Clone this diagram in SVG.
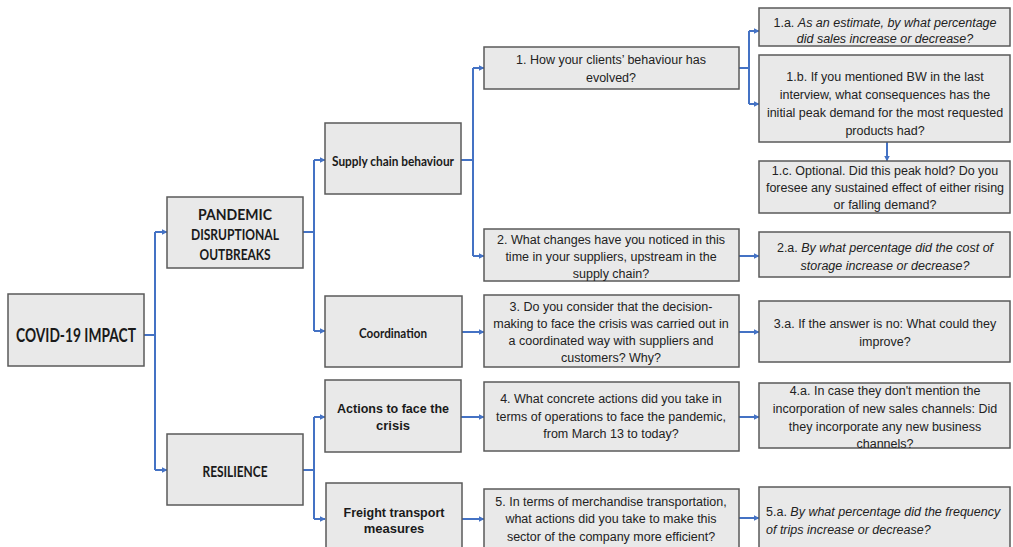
<svg xmlns="http://www.w3.org/2000/svg" width="1013" height="547" viewBox="0 0 1013 547">
<defs>
<marker id="arr" viewBox="0 0 6 6" refX="5.5" refY="3" markerWidth="6" markerHeight="6" markerUnits="userSpaceOnUse" orient="auto">
<path d="M0,0 L6,3 L0,6 z" fill="#4472c4"/>
</marker>
<style>
.box{fill:#e9e9e9;stroke:#5a5a5a;stroke-width:1.5}
.lbl{font-family:Lato,"Liberation Sans",sans-serif;font-weight:bold;fill:#1a1a1a;text-anchor:middle;dominant-baseline:central}
.albl{font-family:"Liberation Sans",Arial,sans-serif;font-weight:bold;fill:#1a1a1a;text-anchor:middle;dominant-baseline:central;font-size:13px}
.q{font-family:"Liberation Sans",Arial,sans-serif;font-size:12.5px;fill:#222;text-anchor:middle;dominant-baseline:central}
.ql{font-family:"Liberation Sans",Arial,sans-serif;font-size:12.5px;fill:#222;dominant-baseline:central}
.it{font-style:italic}
.c{fill:none;stroke:#4472c4;stroke-width:2}
.ca{fill:none;stroke:#4472c4;stroke-width:2;marker-end:url(#arr)}
</style>
</defs>
<rect width="1013" height="547" fill="#ffffff"/>

<g id="connectors">
<path class="c" d="M144,335 H155 M155,232 V470"/>
<path class="ca" d="M155,232 H167"/>
<path class="ca" d="M155,470 H167"/>
<path class="c" d="M303,232 H314 M314,160 V331"/>
<path class="ca" d="M314,160 H325"/>
<path class="ca" d="M314,331 H325"/>
<path class="c" d="M303,470 H314 M314,417 V519"/>
<path class="ca" d="M314,417 H325"/>
<path class="ca" d="M314,519 H325"/>
<path class="c" d="M461,160 H473 M473,68 V256"/>
<path class="ca" d="M473,68 H484"/>
<path class="ca" d="M473,256 H484"/>
<path class="ca" d="M462,332 H484"/>
<path class="ca" d="M461,417 H484"/>
<path class="ca" d="M462,519 H484"/>
<path class="c" d="M739,68 H749 M749,31 V104"/>
<path class="ca" d="M749,31 H759"/>
<path class="ca" d="M749,104 H759"/>
<path class="ca" d="M887,142 V161"/>
<path class="ca" d="M739,256 H759"/>
<path class="ca" d="M739,332 H759"/>
<path class="ca" d="M739,417 H759"/>
<path class="ca" d="M739,518 H759"/>
</g>

<g id="covid">
<rect class="box" x="8" y="294" width="136" height="72"/>
<text class="lbl" x="76" y="335" font-size="18" textLength="120" lengthAdjust="spacingAndGlyphs">COVID-19 IMPACT</text>
</g>

<g id="pandemic">
<rect class="box" x="167" y="197" width="136" height="71"/>
<text class="lbl" x="235" y="213" font-size="16" textLength="74" lengthAdjust="spacingAndGlyphs">PANDEMIC</text>
<text class="lbl" x="235" y="233" font-size="16" textLength="88" lengthAdjust="spacingAndGlyphs">DISRUPTIONAL</text>
<text class="lbl" x="235" y="253" font-size="16" textLength="71" lengthAdjust="spacingAndGlyphs">OUTBREAKS</text>
</g>

<g id="resilience">
<rect class="box" x="167" y="434" width="136" height="71"/>
<text class="lbl" x="235" y="470" font-size="16" textLength="65" lengthAdjust="spacingAndGlyphs">RESILIENCE</text>
</g>

<g id="supply">
<rect class="box" x="325" y="123" width="136" height="71"/>
<text class="lbl" x="393" y="160" font-size="14" textLength="122" lengthAdjust="spacingAndGlyphs">Supply chain behaviour</text>
</g>

<g id="coordination">
<rect class="box" x="325" y="296" width="137" height="71"/>
<text class="lbl" x="393" y="332" font-size="14" textLength="68" lengthAdjust="spacingAndGlyphs">Coordination</text>
</g>

<g id="actions">
<rect class="box" x="325" y="380" width="136" height="72"/>
<text class="albl" x="393" y="408" textLength="112" lengthAdjust="spacingAndGlyphs">Actions to face the</text>
<text class="albl" x="393" y="425">crisis</text>
</g>

<g id="freight">
<rect class="box" x="326" y="483" width="136" height="70"/>
<text class="albl" x="394" y="512" textLength="101" lengthAdjust="spacingAndGlyphs">Freight transport</text>
<text class="albl" x="394" y="528">measures</text>
</g>

<g id="q1">
<rect class="box" x="484" y="47" width="255" height="42"/>
<text class="q" x="611" y="60">1. How your clients’ behaviour has</text>
<text class="q" x="611" y="78">evolved?</text>
</g>

<g id="q2">
<rect class="box" x="484" y="229" width="255" height="52"/>
<text class="q" x="611" y="240">2. What changes have you noticed in this</text>
<text class="q" x="611" y="257">time in your suppliers, upstream in the</text>
<text class="q" x="611" y="274">supply chain?</text>
</g>

<g id="q3">
<rect class="box" x="484" y="295" width="255" height="72"/>
<text class="q" x="611" y="307">3. Do you consider that the decision-</text>
<text class="q" x="611" y="324">making to face the crisis was carried out in</text>
<text class="q" x="611" y="341">a coordinated way with suppliers and</text>
<text class="q" x="611" y="358">customers? Why?</text>
</g>

<g id="q4">
<rect class="box" x="484" y="382" width="255" height="69"/>
<text class="q" x="611" y="399">4. What concrete actions did you take in</text>
<text class="q" x="611" y="417">terms of operations to face the pandemic,</text>
<text class="q" x="611" y="434">from March 13 to today?</text>
</g>

<g id="q5">
<rect class="box" x="484" y="489" width="255" height="64"/>
<text class="q" x="611" y="502">5. In terms of merchandise transportation,</text>
<text class="q" x="611" y="519">what actions did you take to make this</text>
<text class="q" x="611" y="537">sector of the company more efficient?</text>
</g>

<g id="q1a">
<rect class="box" x="759" y="8" width="251" height="38"/>
<text class="q" x="885" y="23">1.a. <tspan class="it">As an estimate, by what percentage</tspan></text>
<text class="q" x="885" y="39"><tspan class="it">did sales increase or decrease?</tspan></text>
</g>

<g id="q1b">
<rect class="box" x="759" y="55" width="251" height="87"/>
<text class="q" x="885" y="77">1.b. If you mentioned BW in the last</text>
<text class="q" x="885" y="95">interview, what consequences has the</text>
<text class="q" x="885" y="113">initial peak demand for the most requested</text>
<text class="q" x="885" y="131">products had?</text>
</g>

<g id="q1c">
<rect class="box" x="759" y="161" width="251" height="52"/>
<text class="q" x="885" y="171">1.c. Optional. Did this peak hold? Do you</text>
<text class="q" x="885" y="188">foresee any sustained effect of either rising</text>
<text class="q" x="885" y="205">or falling demand?</text>
</g>

<g id="q2a">
<rect class="box" x="759" y="232" width="251" height="45"/>
<text class="q" x="885" y="248">2.a. <tspan class="it">By what percentage did the cost of</tspan></text>
<text class="q" x="885" y="266"><tspan class="it">storage increase or decrease?</tspan></text>
</g>

<g id="q3a">
<rect class="box" x="759" y="301" width="251" height="61"/>
<text class="q" x="885" y="324">3.a. If the answer is no: What could they</text>
<text class="q" x="885" y="342">improve?</text>
</g>

<g id="q4a">
<rect class="box" x="759" y="383" width="251" height="65"/>
<text class="q" x="885" y="391">4.a. In case they don't mention the</text>
<text class="q" x="885" y="409">incorporation of new sales channels: Did</text>
<text class="q" x="885" y="427">they incorporate any new business</text>
<text class="q" x="885" y="444">channels?</text>
</g>

<g id="q5a">
<rect class="box" x="759" y="487" width="251" height="66"/>
<text class="ql" x="766" y="512">5.a. <tspan class="it">By what percentage did the frequency</tspan></text>
<text class="ql" x="766" y="530"><tspan class="it">of trips increase or decrease?</tspan></text>
</g>
</svg>
